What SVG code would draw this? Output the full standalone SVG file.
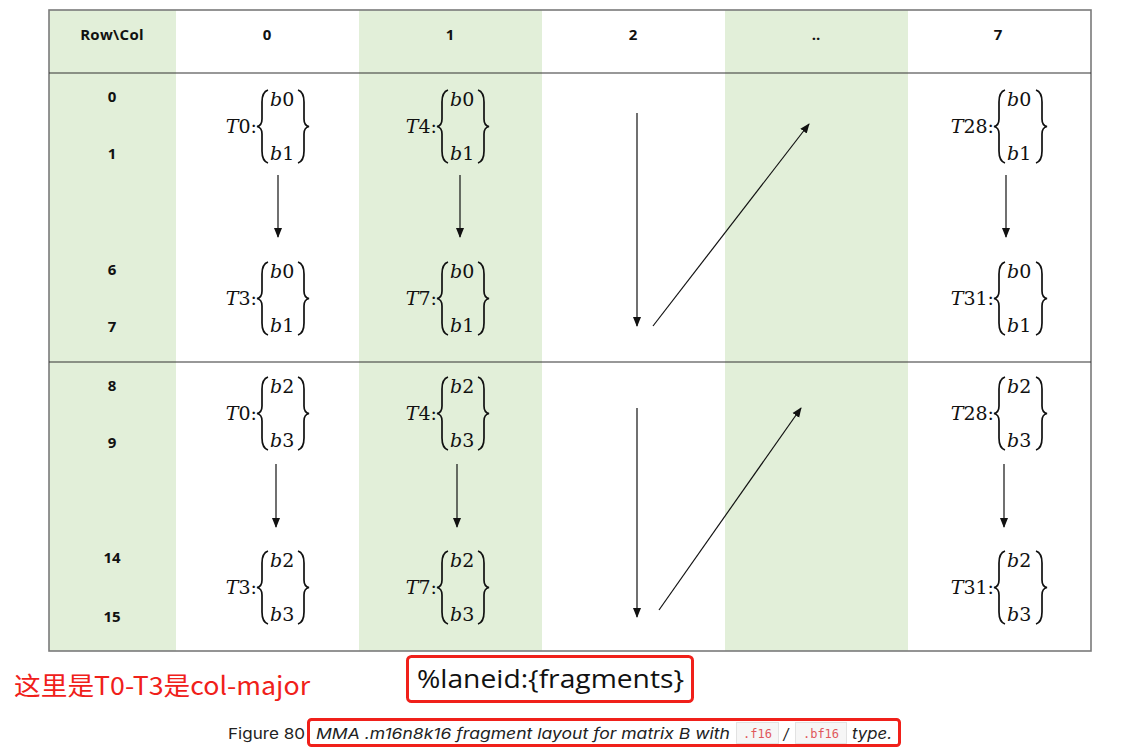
<svg xmlns="http://www.w3.org/2000/svg" xmlns:xlink="http://www.w3.org/1999/xlink" width="1130" height="749" viewBox="0 0 1130 749">
<style>
.hd{font-family:"Open Sans","Liberation Sans",sans-serif;font-weight:bold;font-size:15px;fill:#111;text-anchor:middle}
.m{font-family:"DejaVu Serif","Liberation Serif",serif;font-size:19px;fill:#111}
.mi{font-style:italic}
.br{fill:none;stroke:#111;stroke-width:1.7}
.ar{stroke:#111;stroke-width:1.2;fill:none;marker-end:url(#ah)}
.grn{fill:#e2efd9}
.red{fill:none;stroke:#f0201a;stroke-width:3}
.code{fill:#f6f6f6;stroke:#e2e2e2;stroke-width:1}
.ct{font-family:"DejaVu Sans Mono","Liberation Mono",monospace;font-size:12px;fill:#e0585b}
</style>
<defs>
<marker id="ah" markerUnits="userSpaceOnUse" markerWidth="10" markerHeight="10" viewBox="0 0 10 10" refX="9" refY="5" orient="auto">
<path d="M0,1 L10,5 L0,9 Z" fill="#111"/>
</marker>
<path id="lb" class="br" d="M11,0 Q5,2 5,12 L5,29 Q5,35.5 0,36.5 Q5,37.5 5,44 L5,61 Q5,71 11,73"/>
<path id="rb" class="br" d="M0,0 Q6,2 6,12 L6,29 Q6,35.5 11,36.5 Q6,37.5 6,44 L6,61 Q6,71 0,73"/>
</defs>
<rect width="1130" height="749" fill="#fff"/>
<g id="table">
<rect class="grn" x="49" y="10" width="127" height="641"/>
<rect class="grn" x="359" y="10" width="183" height="641"/>
<rect class="grn" x="725" y="10" width="183" height="641"/>
<rect x="49" y="10" width="1042" height="641" fill="none" stroke="#7a7a7a" stroke-width="1.6"/>
<line x1="49" y1="73" x2="1091" y2="73" stroke="#333" stroke-width="1.2"/>
<line x1="49" y1="362" x2="1091" y2="362" stroke="#333" stroke-width="1.2"/>
</g>
<g id="headers">
<text class="hd" x="112" y="40" letter-spacing="0.3">Row\Col</text>
<text class="hd" x="267" y="40">0</text>
<text class="hd" x="450" y="40">1</text>
<text class="hd" x="633" y="40">2</text>
<text class="hd" x="816" y="40">..</text>
<text class="hd" x="998" y="40">7</text>
</g>
<g id="rowlabels">
<text class="hd" x="112" y="102">0</text>
<text class="hd" x="112" y="159">1</text>
<text class="hd" x="112" y="275">6</text>
<text class="hd" x="112" y="332">7</text>
<text class="hd" x="112" y="391">8</text>
<text class="hd" x="112" y="448">9</text>
<text class="hd" x="112" y="563">14</text>
<text class="hd" x="112" y="622">15</text>
</g>
<g id="cell-T0-b01" transform="translate(257,90)">
<text class="m" x="0" y="43" text-anchor="end"><tspan class="mi">T</tspan>0:</text>
<use xlink:href="#lb"/><text class="m" x="13" y="16"><tspan class="mi">b</tspan>0</text><text class="m" x="13" y="70"><tspan class="mi">b</tspan>1</text><use xlink:href="#rb" x="41"/>
</g>
<g id="cell-T4-b01" transform="translate(437,90)">
<text class="m" x="0" y="43" text-anchor="end"><tspan class="mi">T</tspan>4:</text>
<use xlink:href="#lb"/><text class="m" x="13" y="16"><tspan class="mi">b</tspan>0</text><text class="m" x="13" y="70"><tspan class="mi">b</tspan>1</text><use xlink:href="#rb" x="41"/>
</g>
<g id="cell-T28-b01" transform="translate(994,90)">
<text class="m" x="0" y="43" text-anchor="end"><tspan class="mi">T</tspan>28:</text>
<use xlink:href="#lb"/><text class="m" x="13" y="16"><tspan class="mi">b</tspan>0</text><text class="m" x="13" y="70"><tspan class="mi">b</tspan>1</text><use xlink:href="#rb" x="42"/>
</g>
<g id="cell-T3-b01" transform="translate(257,262)">
<text class="m" x="0" y="43" text-anchor="end"><tspan class="mi">T</tspan>3:</text>
<use xlink:href="#lb"/><text class="m" x="13" y="16"><tspan class="mi">b</tspan>0</text><text class="m" x="13" y="70"><tspan class="mi">b</tspan>1</text><use xlink:href="#rb" x="41"/>
</g>
<g id="cell-T7-b01" transform="translate(437,262)">
<text class="m" x="0" y="43" text-anchor="end"><tspan class="mi">T</tspan>7:</text>
<use xlink:href="#lb"/><text class="m" x="13" y="16"><tspan class="mi">b</tspan>0</text><text class="m" x="13" y="70"><tspan class="mi">b</tspan>1</text><use xlink:href="#rb" x="41"/>
</g>
<g id="cell-T31-b01" transform="translate(994,262)">
<text class="m" x="0" y="43" text-anchor="end"><tspan class="mi">T</tspan>31:</text>
<use xlink:href="#lb"/><text class="m" x="13" y="16"><tspan class="mi">b</tspan>0</text><text class="m" x="13" y="70"><tspan class="mi">b</tspan>1</text><use xlink:href="#rb" x="42"/>
</g>
<g id="cell-T0-b23" transform="translate(257,377)">
<text class="m" x="0" y="43" text-anchor="end"><tspan class="mi">T</tspan>0:</text>
<use xlink:href="#lb"/><text class="m" x="13" y="16"><tspan class="mi">b</tspan>2</text><text class="m" x="13" y="70"><tspan class="mi">b</tspan>3</text><use xlink:href="#rb" x="41"/>
</g>
<g id="cell-T4-b23" transform="translate(437,377)">
<text class="m" x="0" y="43" text-anchor="end"><tspan class="mi">T</tspan>4:</text>
<use xlink:href="#lb"/><text class="m" x="13" y="16"><tspan class="mi">b</tspan>2</text><text class="m" x="13" y="70"><tspan class="mi">b</tspan>3</text><use xlink:href="#rb" x="41"/>
</g>
<g id="cell-T28-b23" transform="translate(994,377)">
<text class="m" x="0" y="43" text-anchor="end"><tspan class="mi">T</tspan>28:</text>
<use xlink:href="#lb"/><text class="m" x="13" y="16"><tspan class="mi">b</tspan>2</text><text class="m" x="13" y="70"><tspan class="mi">b</tspan>3</text><use xlink:href="#rb" x="42"/>
</g>
<g id="cell-T3-b23" transform="translate(257,551)">
<text class="m" x="0" y="43" text-anchor="end"><tspan class="mi">T</tspan>3:</text>
<use xlink:href="#lb"/><text class="m" x="13" y="16"><tspan class="mi">b</tspan>2</text><text class="m" x="13" y="70"><tspan class="mi">b</tspan>3</text><use xlink:href="#rb" x="41"/>
</g>
<g id="cell-T7-b23" transform="translate(437,551)">
<text class="m" x="0" y="43" text-anchor="end"><tspan class="mi">T</tspan>7:</text>
<use xlink:href="#lb"/><text class="m" x="13" y="16"><tspan class="mi">b</tspan>2</text><text class="m" x="13" y="70"><tspan class="mi">b</tspan>3</text><use xlink:href="#rb" x="41"/>
</g>
<g id="cell-T31-b23" transform="translate(994,551)">
<text class="m" x="0" y="43" text-anchor="end"><tspan class="mi">T</tspan>31:</text>
<use xlink:href="#lb"/><text class="m" x="13" y="16"><tspan class="mi">b</tspan>2</text><text class="m" x="13" y="70"><tspan class="mi">b</tspan>3</text><use xlink:href="#rb" x="42"/>
</g>
<g id="connectors">
<line class="ar" x1="278" y1="175" x2="278" y2="237"/>
<line class="ar" x1="460" y1="175" x2="460" y2="237"/>
<line class="ar" x1="1006" y1="175" x2="1006" y2="237"/>
<line class="ar" x1="637" y1="113" x2="637" y2="326"/>
<line class="ar" x1="653" y1="326" x2="809" y2="124"/>
<line class="ar" x1="276" y1="464" x2="276" y2="527"/>
<line class="ar" x1="457" y1="464" x2="457" y2="527"/>
<line class="ar" x1="1004" y1="464" x2="1004" y2="527"/>
<line class="ar" x1="637" y1="408" x2="637" y2="617"/>
<line class="ar" x1="659" y1="610" x2="801" y2="408"/>
</g>
<g id="annotation-note">
<text x="14" y="695" font-family="Noto Sans CJK SC, Noto Sans, sans-serif" font-size="25" fill="#f0201a" textLength="296" lengthAdjust="spacingAndGlyphs">这里是T0-T3是col-major</text>
</g>
<g id="annotation-legend">
<rect class="red" x="407.5" y="656.5" width="285" height="45" rx="4"/>
<text x="417" y="688" font-family="Open Sans, Liberation Sans, sans-serif" font-size="25" fill="#111" textLength="267" lengthAdjust="spacingAndGlyphs">%laneid:{fragments}</text>
</g>
<g id="caption">
<text x="228" y="739" font-family="Inter, Noto Sans, sans-serif" font-size="15" fill="#222" textLength="77" lengthAdjust="spacingAndGlyphs">Figure 80</text>
<rect class="red" x="308.5" y="719.5" width="591" height="26" rx="3"/>
<text x="316" y="739" font-family="Inter, Noto Sans, sans-serif" font-size="15" font-style="italic" fill="#222" textLength="414" lengthAdjust="spacingAndGlyphs">MMA .m16n8k16 fragment layout for matrix B with</text>
<rect class="code" x="736.5" y="722.5" width="42" height="21"/>
<text class="ct" x="757.5" y="737.5" text-anchor="middle">.f16</text>
<text x="786" y="739" font-family="Inter, Noto Sans, sans-serif" font-size="15" font-style="italic" fill="#222" text-anchor="middle">/</text>
<rect class="code" x="795.5" y="722.5" width="51" height="21"/>
<text class="ct" x="821" y="737.5" text-anchor="middle">.bf16</text>
<text x="852" y="739" font-family="Inter, Noto Sans, sans-serif" font-size="15" font-style="italic" fill="#222" textLength="40" lengthAdjust="spacingAndGlyphs">type.</text>
</g>
</svg>
